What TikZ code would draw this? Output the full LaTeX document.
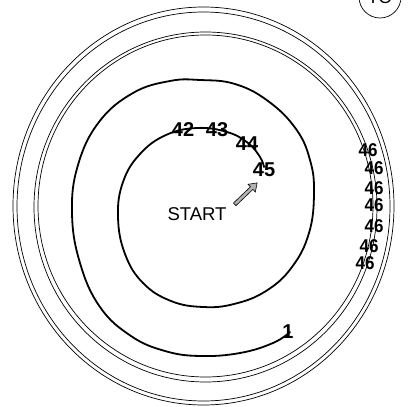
\documentclass[tikz,border=0pt]{standalone}
\usepackage{fontspec}
\setmainfont{Liberation Sans}
\usetikzlibrary{shapes.arrows}
\tikzset{
  ring/.style={draw=black, line width=0.7pt},
  spiral/.style={draw=black, line width=1.8pt, line cap=round},
  numlabel/.style={font=\fontsize{20}{20}\selectfont\bfseries, inner sep=0pt, text=black},
  sidelabel/.style={font=\fontsize{18.5}{18.5}\selectfont\bfseries, inner sep=0pt, text=black, xscale=0.92},
  startlabel/.style={font=\fontsize{18.5}{18.5}\selectfont, inner sep=0pt},
}
\begin{document}
\begin{tikzpicture}[x=1pt,y=-1pt]
\useasboundingbox (0,0) rectangle (414,406);
% outer double ring
\draw[ring] (203.5,206) ellipse [x radius=190.5, y radius=199];
\draw[ring] (203.5,206.5) ellipse [x radius=186.5, y radius=194.5];
% inner double ring
\draw[ring] (205.5,207) ellipse [x radius=171.5, y radius=175];
\draw[ring] (205.5,206) ellipse [x radius=167.5, y radius=171];
% spiral
\draw[spiral] plot[smooth, tension=0.7] coordinates {
 (290,332) (273,343) (240,353) (200,356) (165,351) (131,336) (100,307)
 (80,263) (72,213) (78,165) (99,122) (133,93) (170,81) (200,80)
 (235,84) (268,101) (296,129) (310,160) (314,193) (309,233) (292,267)
 (266,291) (234,304) (203,307) (171,301) (143,283) (125,254) (118,217)
 (123,182) (140,154) (166,135) (197,128) (227,132) (248,143) (260,157) (264,167)};
% spiral labels
\node[numlabel] (n1) at (288,332) {1};
\node[numlabel] (n42) at (183,130) {42};
\node[numlabel] (n43) at (217,130) {43};
\node[numlabel] (n44) at (247,144) {44};
\node[numlabel] (n45) at (264,170) {45};
% side labels
\node[sidelabel] (s1) at (368,150) {46};
\node[sidelabel] (s2) at (374,168) {46};
\node[sidelabel] (s3) at (374,188) {46};
\node[sidelabel] (s4) at (374,205) {46};
\node[sidelabel] (s5) at (374,226) {46};
\node[sidelabel] (s6) at (369,246) {46};
\node[sidelabel] (s7) at (365,263) {46};
% start
\node[startlabel] (start) at (197,214) {START};
\node[single arrow, draw=black, line width=0.6pt, fill=gray!60, inner sep=1.5pt,
      minimum height=31pt, minimum width=10pt, single arrow head extend=3.5pt,
      single arrow tip angle=70, rotate=43.7] (arr) at (245,194.5) {};
% TO circle
\node[draw=black, line width=0.7pt, circle, minimum size=42pt, inner sep=0pt,
      font=\fontsize{18}{18}\selectfont] (to) at (380,-3) {TO};
\end{tikzpicture}
\end{document}
